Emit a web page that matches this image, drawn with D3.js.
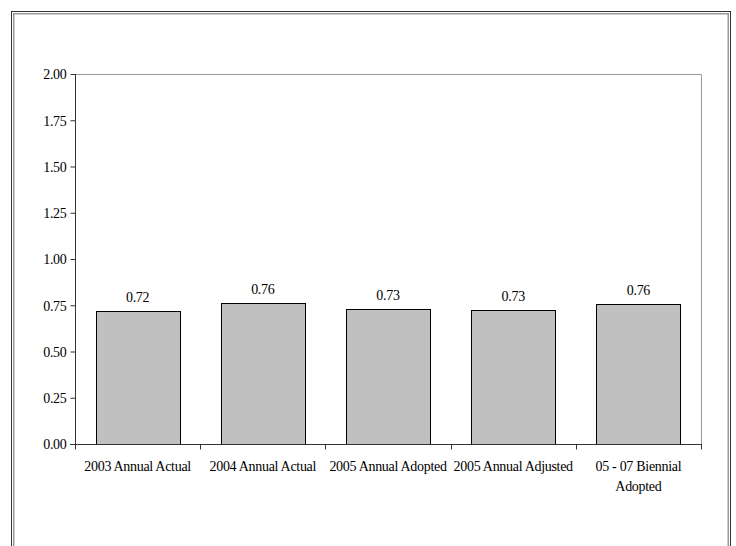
<!DOCTYPE html>
<html lang="en">
<head>
  <meta charset="UTF-8">
  <title>Annual Ratio Chart</title>
  <script src="https://d3js.org/d3.v7.min.js"></script>
  <style>
    body { margin: 0; background: #fff; }
    svg text { font-family: "Times New Roman", "Liberation Serif", serif; font-size: 14px; fill: #000; letter-spacing: -0.3px; }
  </style>
</head>
<body>
  <script>
    // data
    const categories = ["2003 Annual Actual", "2004 Annual Actual", "2005 Annual Adopted", "2005 Annual Adjusted", "05 - 07 Biennial|Adopted"];
    const values = [0.72, 0.76, 0.73, 0.727, 0.757];
    const yTicks = [0, 0.25, 0.5, 0.75, 1, 1.25, 1.5, 1.75, 2];

    const W = 736, H = 546;
    const plot = { left: 75, right: 701, top: 74, bottom: 444 };
    const serif = "'Times New Roman', 'Liberation Serif', serif";

    const svg = d3.select("body").append("svg")
      .attr("width", W).attr("height", H)
      .attr("font-family", serif);

    // outer double frame
    svg.append("rect")
      .attr("x", 11.5).attr("y", 11.5).attr("width", 719).attr("height", 560)
      .attr("fill", "none").attr("stroke", "#333").attr("stroke-width", 1);
    svg.append("rect")
      .attr("x", 13.75).attr("y", 13.75).attr("width", 714.5).attr("height", 560)
      .attr("fill", "none").attr("stroke", "#999").attr("stroke-width", 1.5);

    const x = d3.scaleBand()
      .domain(categories)
      .range([plot.left, plot.right])
      .paddingInner(0.33)
      .paddingOuter(0.165);

    const y = d3.scaleLinear()
      .domain([0, 2])
      .range([plot.bottom, plot.top]);

    // plot area top/right edges
    svg.append("path")
      .attr("d", `M${plot.left},${plot.top + 0.5}H${plot.right + 0.5}V${plot.bottom}`)
      .attr("fill", "none").attr("stroke", "#999").attr("stroke-width", 1);

    // bars
    svg.selectAll(".bar")
      .data(values)
      .enter().append("rect")
      .attr("class", "bar")
      .attr("x", (d, i) => Math.round(x(categories[i])) + 0.5)
      .attr("y", d => Math.round(y(d)) + 0.5)
      .attr("width", Math.round(x.bandwidth()))
      .attr("height", d => plot.bottom - Math.round(y(d)))
      .attr("fill", "#c0c0c0")
      .attr("stroke", "#000")
      .attr("stroke-width", 1);

    // value labels
    svg.selectAll(".val")
      .data(values)
      .enter().append("text")
      .attr("class", "val")
      .attr("x", (d, i) => x(categories[i]) + x.bandwidth() / 2)
      .attr("y", d => y(d) - 9)
      .attr("text-anchor", "middle")
      .text(d => d3.format(".2f")(d));

    // y axis
    const yAxis = svg.append("g")
      .attr("transform", `translate(${plot.left + 0.5},0)`)
      .call(d3.axisLeft(y).tickValues(yTicks).tickSize(5).tickPadding(4).tickFormat(d3.format(".2f")));
    yAxis.attr("font-family", serif).attr("font-size", 14);
    yAxis.select(".domain").attr("stroke", "#333").attr("d", `M0,${plot.top}V${plot.bottom}`);
    yAxis.selectAll(".tick line").attr("stroke", "#333");
    yAxis.selectAll("text").attr("dy", "0.35em");

    // x axis: ticks at category boundaries
    const xAxis = svg.append("g")
      .attr("transform", `translate(0,${plot.bottom + 0.5})`);
    xAxis.append("line")
      .attr("x1", plot.left - 5).attr("x2", plot.right + 1)
      .attr("stroke", "#333");
    const step = x.step();
    const bounds = d3.range(categories.length + 1).map(i => x(categories[0]) - x.paddingOuter() * step + i * step);
    xAxis.selectAll(".xt")
      .data(bounds)
      .enter().append("line")
      .attr("class", "xt")
      .attr("x1", d => Math.round(d) + 0.5).attr("x2", d => Math.round(d) + 0.5)
      .attr("y1", 0).attr("y2", 5)
      .attr("stroke", "#333");

    // x labels (may wrap on "|")
    xAxis.selectAll(".xl")
      .data(categories)
      .enter().append("text")
      .attr("class", "xl")
      .attr("text-anchor", "middle")
      .attr("transform", d => `translate(${x(d) + x.bandwidth() / 2},26)`)
      .each(function(d) {
        d.split("|").forEach((line, i) => {
          d3.select(this).append("tspan")
            .attr("x", 0).attr("y", i * 20)
            .text(line);
        });
      });
  </script>
</body>
</html>
